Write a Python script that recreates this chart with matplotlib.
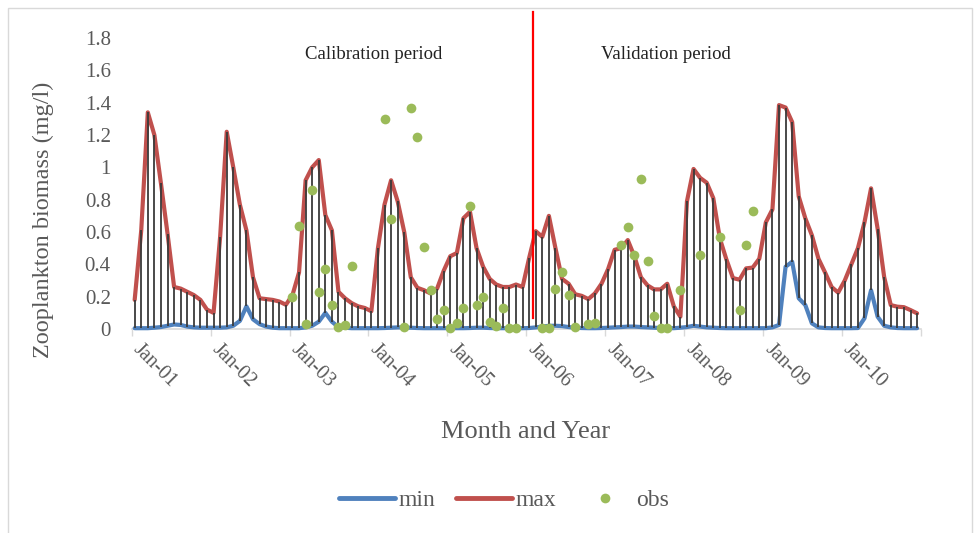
import numpy as np
import matplotlib
matplotlib.use("Agg")
import matplotlib.pyplot as plt
from matplotlib.lines import Line2D
from matplotlib.patches import Rectangle
from matplotlib.transforms import ScaledTranslation

# Monthly simulated envelope (mg/l), Jan-2001 .. Dec-2010
max_vals = [
    0.18, 0.61, 1.34, 1.20, 0.90, 0.59, 0.26, 0.25, 0.23, 0.21, 0.18, 0.12,   # 2001
    0.10, 0.57, 1.22, 1.00, 0.77, 0.61, 0.32, 0.19, 0.185, 0.18, 0.17, 0.15,  # 2002
    0.21, 0.35, 0.92, 1.00, 1.045, 0.705, 0.61, 0.23, 0.19, 0.16, 0.14, 0.13, # 2003
    0.11, 0.50, 0.77, 0.92, 0.79, 0.60, 0.32, 0.255, 0.24, 0.22, 0.25, 0.36,  # 2004
    0.45, 0.47, 0.685, 0.725, 0.50, 0.385, 0.31, 0.275, 0.26, 0.26, 0.275, 0.26,  # 2005
    0.44, 0.605, 0.57, 0.70, 0.50, 0.31, 0.28, 0.215, 0.205, 0.185, 0.22, 0.28,   # 2006
    0.37, 0.49, 0.50, 0.55, 0.45, 0.32, 0.27, 0.245, 0.245, 0.28, 0.14, 0.076,    # 2007
    0.79, 0.99, 0.935, 0.905, 0.81, 0.56, 0.43, 0.315, 0.305, 0.375, 0.38, 0.435, # 2008
    0.66, 0.74, 1.385, 1.37, 1.28, 0.82, 0.685, 0.58, 0.435, 0.35, 0.26, 0.225,   # 2009
    0.30, 0.40, 0.50, 0.66, 0.87, 0.62, 0.32, 0.148, 0.138, 0.135, 0.117, 0.097,  # 2010
]
min_vals = [
    0.005, 0.005, 0.005, 0.008, 0.012, 0.02, 0.028, 0.025, 0.015, 0.01, 0.008, 0.008,
    0.008, 0.008, 0.01, 0.02, 0.05, 0.14, 0.06, 0.03, 0.015, 0.008, 0.005, 0.005,
    0.005, 0.005, 0.01, 0.02, 0.045, 0.10, 0.045, 0.012, 0.008, 0.005, 0.005, 0.005,
    0.005, 0.005, 0.006, 0.008, 0.01, 0.01, 0.008, 0.006, 0.005, 0.005, 0.005, 0.005,
    0.005, 0.005, 0.005, 0.006, 0.008, 0.008, 0.006, 0.005, 0.005, 0.005, 0.005, 0.005,
    0.006, 0.01, 0.015, 0.02, 0.02, 0.018, 0.012, 0.008, 0.006, 0.005, 0.005, 0.006,
    0.008, 0.01, 0.012, 0.015, 0.015, 0.012, 0.01, 0.008, 0.006, 0.005, 0.005, 0.008,
    0.012, 0.02, 0.015, 0.01, 0.008, 0.006, 0.005, 0.005, 0.005, 0.005, 0.005, 0.005,
    0.005, 0.01, 0.025, 0.385, 0.416, 0.19, 0.148, 0.035, 0.01, 0.006, 0.005, 0.005,
    0.005, 0.005, 0.006, 0.066, 0.24, 0.076, 0.02, 0.01, 0.006, 0.005, 0.005, 0.005,
]

# Observed biomass (mg/l); NaN where no sample was taken
nan = np.nan
obs_vals = [
    nan, nan, nan, nan, nan, nan, nan, nan, nan, nan, nan, nan,
    nan, nan, nan, nan, nan, nan, nan, nan, nan, nan, nan, nan,
    0.20, 0.64, 0.03, 0.86, 0.23, 0.37, 0.15, 0.01, 0.025, 0.39, nan, nan,
    nan, nan, 1.30, 0.68, nan, 0.01, 1.37, 1.19, 0.51, 0.24, 0.06, 0.12,
    0.005, 0.04, 0.13, 0.76, 0.15, 0.20, 0.045, 0.02, 0.13, 0.006, 0.006, nan,
    nan, nan, 0.004, 0.004, 0.25, 0.35, 0.21, 0.01, nan, 0.033, 0.035, nan,
    nan, nan, 0.52, 0.63, 0.46, 0.93, 0.42, 0.08, 0.004, 0.004, nan, 0.24,
    nan, nan, 0.46, nan, nan, 0.57, nan, nan, 0.12, 0.52, 0.73, nan,
    nan, nan, nan, nan, nan, nan, nan, nan, nan, nan, nan, nan,
    nan, nan, nan, nan, nan, nan, nan, nan, nan, nan, nan, nan,
]

year_labels = ["Jan-01", "Jan-02", "Jan-03", "Jan-04", "Jan-05",
               "Jan-06", "Jan-07", "Jan-08", "Jan-09", "Jan-10"]
y_ticks = [0, 0.2, 0.4, 0.6, 0.8, 1, 1.2, 1.4, 1.6, 1.8]
y_tick_labels = ["0", "0.2", "0.4", "0.6", "0.8", "1", "1.2", "1.4", "1.6", "1.8"]
period_split = 61.0   # month position of the calibration / validation boundary

plt.rcParams["font.family"] = ["Liberation Serif", "DejaVu Serif"]
TXT = "#595959"
BLUE, RED, GREEN = "#4F81BD", "#C0504D", "#9BBB59"

fig = plt.figure(figsize=(9.8, 5.33), dpi=100)
fig.patches.append(Rectangle((8 / 980, -0.1), 964 / 980, 1.1 - 8 / 533, transform=fig.transFigure,
                             fill=False, edgecolor="#D9D9D9", linewidth=1.0))
ax = fig.add_axes([131.7 / 980, 1 - 329 / 533, 789 / 980, 291 / 533])

x = np.arange(len(max_vals)) + 0.45
ax.plot(x, min_vals, color=BLUE, lw=3.0, solid_capstyle="round", solid_joinstyle="round",
        zorder=3, clip_on=False)
ax.plot(x, max_vals, color=RED, lw=3.0, solid_capstyle="round", solid_joinstyle="round",
        zorder=3, clip_on=False)
ax.vlines(x, min_vals, max_vals, color="#3A3A3A", lw=1.3, zorder=4)
ax.plot(x, obs_vals, linestyle="none", marker="o", markersize=7, color=GREEN,
        markeredgewidth=0, zorder=5, clip_on=False)

ax.plot([period_split, period_split], [0.07, 1.96], color="#FF0000", lw=1.6, zorder=6, clip_on=False)
ax.text(36.8, 1.70, "Calibration period", ha="center", va="center", fontsize=13.5, color="#222222")
ax.text(81.2, 1.70, "Validation period", ha="center", va="center", fontsize=13.5, color="#222222")

ax.set_xlim(0, 120)
ax.set_ylim(0, 1.8)
tick_pos = np.arange(0, 121, 12)
ax.set_xticks(tick_pos)
ax.set_xticklabels([])
# Year labels, slanted downward to the right from each tick
lbl_trans = ax.get_xaxis_transform() + ScaledTranslation(3.2 / 72, -13 / 72, fig.dpi_scale_trans)
for pos, lab in zip(tick_pos, year_labels):
    ax.text(pos, 0, lab, transform=lbl_trans, rotation=-45, rotation_mode="anchor",
            ha="left", va="center", fontsize=14.5, color=TXT)
ax.set_yticks(y_ticks)
ax.set_yticklabels(y_tick_labels, fontsize=15, color=TXT)
ax.tick_params(axis="y", length=0, pad=15)
ax.tick_params(axis="x", length=5, color="#D9D9D9", width=1)
for s in ["top", "right", "left"]:
    ax.spines[s].set_visible(False)
ax.spines["bottom"].set_color("#D9D9D9")
ax.spines["bottom"].set_linewidth(1.2)

fig.text(43 / 980, 1 - 220 / 533, "Zooplankton biomass (mg/l)", rotation=90, ha="center", va="center",
         fontsize=17.5, color=TXT)
fig.text(526 / 980, 1 - 432 / 533, "Month and Year", ha="center", va="center", fontsize=19, color=TXT)

handles = [Line2D([], [], color=BLUE, lw=3.5, solid_capstyle="round"),
           Line2D([], [], color=RED, lw=3.5, solid_capstyle="round"),
           Line2D([], [], linestyle="none", marker="o", markersize=7, color=GREEN, markeredgewidth=0)]
leg = fig.legend(handles, ["min", "max", "obs"], loc="center", bbox_to_anchor=(504 / 980, 1 - 500 / 533),
                 ncol=3, frameon=False, fontsize=17, handlelength=2.35, handletextpad=0.15,
                 columnspacing=0.9)
for t in leg.get_texts():
    t.set_color(TXT)

fig.savefig("out.png", dpi=100)
